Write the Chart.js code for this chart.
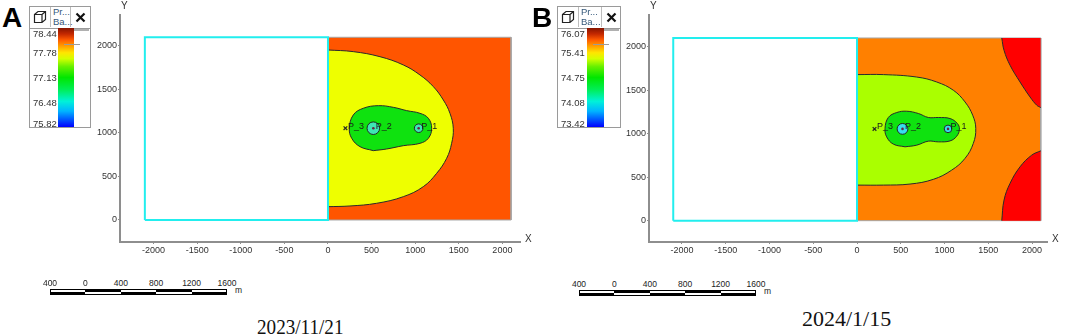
<!DOCTYPE html>
<html lang="en">
<head>
<meta charset="UTF-8">
<title>Pressure maps 2023/11/21 and 2024/1/15</title>
<script src="https://cdn.jsdelivr.net/npm/chart.js"></script>
<style>
  body { margin: 0; background: #fff; }
  #page { position: relative; width: 1065px; height: 336px; overflow: hidden; font-family: Arial, "Liberation Sans", sans-serif; color: #222; }
  canvas { position: absolute; top: 0; }
  .tag { position: absolute; top: 4px; font: bold 28px Arial, "Liberation Sans", sans-serif; line-height: 28px; color: #000; }
  .cbar { position: absolute; top: 6px; height: 122px; border: 1px solid #9a9a9a; box-sizing: border-box; background: #fff; }
  .hdr { position: absolute; left: 0; top: 0; right: 0; height: 21px; border-bottom: 1px solid #9a9a9a; }
  .cell { position: absolute; top: 0; height: 20px; display: flex; align-items: center; justify-content: center; box-sizing: border-box; }
  .txt { font-size: 9.5px; line-height: 10px; color: #35587a; display: block; padding: 0 0 0 2px; justify-content: flex-start; }
  .grad { position: absolute; top: 21px; bottom: 0;
    background: linear-gradient(to bottom, #861400 0%, #c42800 6%, #ff5a00 12%, #ff9c00 18%, #ffe600 25%, #d4ff00 31%, #66f000 39%, #00e600 50%, #00ee55 62%, #00f2d8 74%, #00b4ff 84%, #0050ff 93%, #0000ff 100%); }
  .val { position: absolute; left: 3px; font-size: 9.5px; line-height: 10px; color: #333; }
  .streak { position: absolute; height: 1px; background: #9c9c9c; }
  .bar { position: absolute; height: 6px; border: 1px solid #000; box-sizing: border-box; }
  .seg { position: absolute; height: 2px; background: #000; }
  .blab { position: absolute; font-size: 8.5px; line-height: 9px; color: #222; transform: translateX(-50%); white-space: nowrap; }
  .date { position: absolute; font: 22px "Times New Roman", "Liberation Serif", serif; line-height: 22px; color: #111; transform-origin: 0 0; white-space: nowrap; }
</style>
</head>
<body>
<div id="page">
  <canvas id="mapA" width="452" height="262" style="left:88px"></canvas>
  <canvas id="mapB" width="448" height="262" style="left:617px"></canvas>
  <div class="tag" style="left:2px">A</div>
  <div class="tag" style="left:532px">B</div>
</div>

<script>
// axes
const xTicks = [-2000, -1500, -1000, -500, 0, 500, 1000, 1500, 2000];
const yTicks = [0, 500, 1000, 1500, 2000];

// wells
const wellNames = ['P_1', 'P_2', 'P_3'];
const wellX = [1040, 520, 200];
const wellY = [1055, 1055, 1055];

// colour bar values (top to bottom)
const legendA = [78.44, 77.78, 77.13, 76.48, 75.82];
const legendB = [76.07, 75.41, 74.75, 74.08, 73.42];

// scale bar and captions
const scaleLabels = ['400', '0', '400', '800', '1200', '1600'];
const dates = ['2023/11/21', '2024/1/15'];

// model blocks, metres
const emptyBlock = [[-2100, 0], [-2100, 2100], [0, 2100], [0, 0], [-2100, 0]];
const fieldBlock = [[0, 0], [0, 2100], [2100, 2100], [2100, 0], [0, 0]];

// 2023/11/21 contours
const yellowA = [[0, 1954], [290, 1935], [596, 1877], [864, 1782], [1055, 1667], [1208, 1533], [1323, 1379],
  [1399, 1226], [1437, 1054], [1418, 881], [1361, 709], [1246, 536], [1093, 383], [864, 268], [558, 192], [252, 161], [0, 153]];
const greenA = [[520, 797], [367, 843], [272, 939], [245, 1054], [290, 1207], [405, 1284], [577, 1314], [749, 1295],
  [902, 1257], [1055, 1226], [1151, 1169], [1189, 1054], [1151, 939], [1055, 881], [864, 854], [673, 816], [520, 797]];

// 2024/1/15 contours
const limeB = [[0, 1679], [301, 1679], [682, 1651], [911, 1594], [1101, 1499], [1234, 1365], [1322, 1212], [1357, 1060],
  [1329, 888], [1234, 716], [1082, 581], [872, 475], [606, 421], [301, 409], [0, 409]];
const greenB = [[549, 849], [415, 880], [339, 963], [320, 1060], [358, 1186], [454, 1243], [568, 1258], [701, 1232],
  [815, 1186], [929, 1186], [1063, 1174], [1147, 1117], [1170, 1052], [1139, 971], [1063, 917], [929, 906], [815, 914],
  [682, 868], [549, 849]];
const redTopB = [[1654, 2100], [1680, 1958], [1749, 1786], [1863, 1594], [1977, 1422], [2054, 1327], [2100, 1300]];
const redBottomB = [[2100, 803], [1996, 753], [1863, 619], [1749, 429], [1680, 237], [1654, 0]];

const FONT = 'Arial, "Liberation Sans", sans-serif';

function pts(pairs) {
  return pairs.map(p => ({x: p[0], y: p[1]}));
}

function region(pairs, color, order, extra) {
  return Object.assign({
    data: pts(pairs), showLine: true, fill: 'shape', backgroundColor: color,
    borderColor: '#2a2a2a', borderWidth: 1, pointRadius: 0, tension: 0.4, order: order
  }, extra || {});
}

function axis(min, max, ticks, size, isX) {
  return {
    type: 'linear', min: min, max: max,
    afterBuildTicks: s => { s.ticks = ticks.map(v => ({value: v})); },
    afterFit: s => { if (isX) s.height = size; else s.width = size; },
    border: {display: true, color: '#8e8e8e', width: 2},
    grid: {drawOnChartArea: false, drawTicks: true, tickLength: 2, color: '#8e8e8e'},
    ticks: {color: '#333', font: {size: 9, family: FONT}, padding: 1, autoSkip: false, maxRotation: 0,
      callback: v => String(v)}
  };
}

// well names and the X / Y axis letters
const overlay = {
  id: 'overlay',
  afterDatasetsDraw(chart) {
    const {ctx, chartArea: a} = chart;
    const x = chart.scales.x, y = chart.scales.y;
    ctx.save();
    ctx.font = '9px ' + FONT;
    ctx.fillStyle = '#1a1a1a';
    ctx.textBaseline = 'middle';
    wellNames.forEach((n, i) => {
      ctx.fillText(n, x.getPixelForValue(wellX[i]) + 2.5, y.getPixelForValue(wellY[i]) - 2);
    });
    ctx.font = '10px ' + FONT;
    ctx.fillStyle = '#333';
    ctx.fillText('Y', a.left + 1, a.top - 9);
    ctx.fillText('X', a.right + 5, a.bottom - 3);
    ctx.restore();
  }
};

function makeMap(id, cfg) {
  const wells = wellX.map((v, i) => ({x: v, y: wellY[i]}));
  const datasets = [
    region(fieldBlock, cfg.base, 8, {tension: 0, borderColor: '#a6a6a6'})
  ].concat(cfg.regions, [
    region(emptyBlock, 'rgba(0,0,0,0)', 2, {tension: 0, fill: false, borderColor: '#22eeee', borderWidth: 2}),
    {data: wells, showLine: false, order: 1,
      pointStyle: ['circle', 'circle', 'crossRot'], pointRadius: cfg.wellR,
      pointBackgroundColor: [cfg.well, cfg.well, 'rgba(0,0,0,0)'],
      pointBorderColor: '#262626', pointBorderWidth: [1, 1, 1.2]},
    {data: wells.slice(0, 2), showLine: false, order: 0,
      pointRadius: 1.3, pointBackgroundColor: '#6a2040', pointBorderWidth: 0}
  ]);
  return new Chart(document.getElementById(id), {
    type: 'scatter',
    data: {datasets: datasets},
    options: {
      responsive: false, animation: false, events: [],
      layout: {padding: {top: 15, right: cfg.padRight, left: 0, bottom: 0}},
      plugins: {legend: {display: false}, tooltip: {enabled: false}},
      scales: {
        x: axis(cfg.xMin, cfg.xMax, xTicks, 20, true),
        y: axis(cfg.yMin, cfg.yMax, yTicks, 32, false)
      }
    },
    plugins: [overlay]
  });
}

makeMap('mapA', {
  base: '#ff5500', well: '#3ee6b6', wellR: [4.3, 6.3, 2.6],
  xMin: -2385, xMax: 2202, yMin: -253, yMax: 2356, padRight: 20,
  regions: [
    region(yellowA, '#eeff00', 6),
    region(greenA, '#0fe20f', 4)
  ]
});

makeMap('mapB', {
  base: '#ff8000', well: '#36dff0', wellR: [3.8, 5.4, 2.6],
  xMin: -2377, xMax: 2171, yMin: -245, yMax: 2364, padRight: 18,
  regions: [
    region(redTopB, '#ff0000', 7, {fill: {value: 2100}}),
    region(redBottomB, '#ff0000', 7, {fill: {value: 0}}),
    region(limeB, '#aaff00', 6),
    region(greenB, '#0fe20f', 4)
  ]
});

// colour bar panel
const page = document.getElementById('page');
const cube = '<svg width="14" height="14" viewBox="0 0 14 14"><path d="M1.5 4.5 L5 1.5 H12.5 V9.5 L9 12.5 H1.5 Z M1.5 4.5 H9 V12.5 M9 4.5 L12.5 1.5" fill="none" stroke="#222" stroke-width="1.2"/></svg>';
const cross = '<svg width="11" height="11" viewBox="0 0 11 11"><path d="M1.5 1.5 L9.5 9.5 M9.5 1.5 L1.5 9.5" stroke="#111" stroke-width="2.2"/></svg>';

function colorBar(left, width, cells, gradLeft, gradWidth, values) {
  const box = document.createElement('div');
  box.className = 'cbar';
  box.style.left = left + 'px';
  box.style.width = width + 'px';
  let html = '<div class="hdr">' +
    '<div class="cell" style="left:0;width:' + cells[0] + 'px;border-right:1px solid #bdbdbd">' + cube + '</div>' +
    '<div class="cell txt" style="left:' + cells[0] + 'px;width:' + cells[1] + 'px;border-right:1px solid #bdbdbd;padding-top:0">Pr...<br>Ba...</div>' +
    '<div class="cell" style="left:' + (cells[0] + cells[1]) + 'px;right:0">' + cross + '</div></div>';
  html += '<div class="grad" style="left:' + gradLeft + 'px;width:' + gradWidth + 'px"></div>';
  html += '<div class="streak" style="left:' + (gradLeft + gradWidth) + 'px;width:15px;top:22px;height:2px;background:#b0b0b0"></div>';
  html += '<div class="streak" style="left:' + (gradLeft + 6) + 'px;width:16px;top:37px"></div>';
  const top = 21, h = 100;
  values.forEach((v, i) => {
    const c = Math.min(Math.max(top + i * h / 4, top + 6), top + h - 4);
    html += '<div class="val" style="top:' + (c - 5) + 'px">' + v.toFixed(2) + '</div>';
  });
  box.innerHTML = html;
  page.appendChild(box);
}

colorBar(29, 62, [21, 20], 28, 16, legendA);
colorBar(557, 64, [21, 23], 29, 17, legendB);

// scale bars
function scaleBar(left, top, width) {
  const n = scaleLabels.length - 1;
  const step = width / n;
  const bar = document.createElement('div');
  bar.className = 'bar';
  bar.style.left = left + 'px';
  bar.style.top = top + 'px';
  bar.style.width = width + 'px';
  for (let i = 0; i < n; i++) {
    const s = document.createElement('div');
    s.className = 'seg';
    s.style.left = (i * step - 1) + 'px';
    s.style.width = step + 'px';
    s.style.top = (i % 2 === 0 ? 2 : 0) + 'px';
    bar.appendChild(s);
  }
  page.appendChild(bar);
  scaleLabels.forEach((t, i) => {
    const l = document.createElement('div');
    l.className = 'blab';
    l.textContent = t;
    l.style.left = (left + i * step) + 'px';
    l.style.top = (top - 10) + 'px';
    page.appendChild(l);
  });
  const m = document.createElement('div');
  m.className = 'blab';
  m.textContent = 'm';
  m.style.transform = 'none';
  m.style.left = (left + width + 8) + 'px';
  m.style.top = (top - 3) + 'px';
  page.appendChild(m);
}

scaleBar(50, 289, 177);
scaleBar(579, 290, 177);

// captions
[[dates[0], 257, 316, 0.87], [dates[1], 802, 308, 1.0]].forEach(d => {
  const el = document.createElement('div');
  el.className = 'date';
  el.textContent = d[0];
  el.style.left = d[1] + 'px';
  el.style.top = d[2] + 'px';
  el.style.transform = 'scaleX(' + d[3] + ')';
  page.appendChild(el);
});
</script>
</body>
</html>
